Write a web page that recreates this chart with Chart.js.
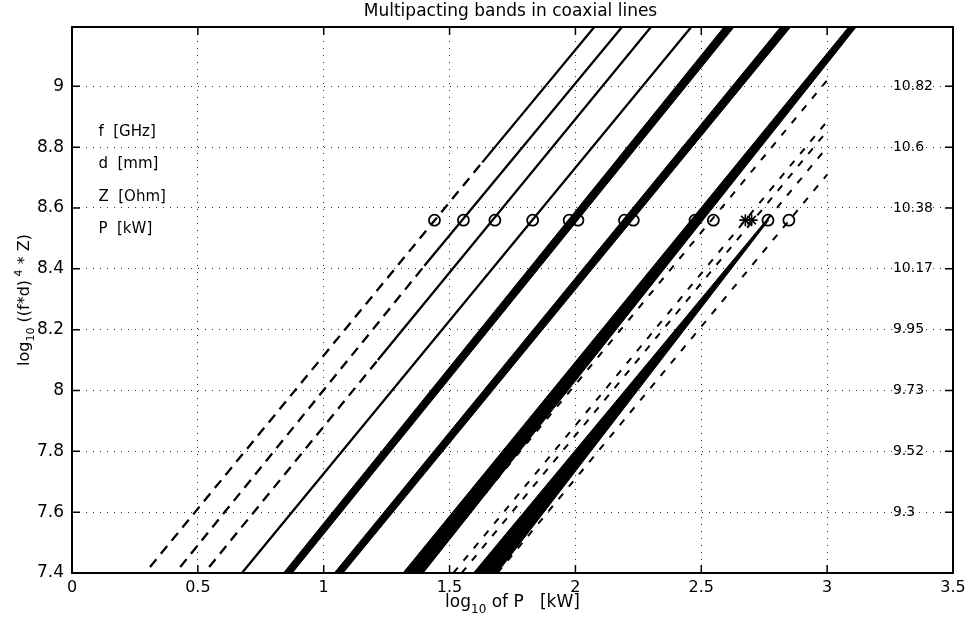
<!DOCTYPE html>
<html>
<head>
<meta charset="utf-8">
<title>Multipacting bands in coaxial lines</title>
<script src="https://cdn.jsdelivr.net/npm/chart.js@4.4.1/dist/chart.umd.min.js"></script>
<style>
    html, body { margin: 0; padding: 0; background: #fff; }
    #wrap { width: 969px; height: 619px; }
</style>
</head>
<body>
<div id="wrap"><canvas id="bandsChart" width="969" height="619"></canvas></div>
<script>
// Axis ticks and labels
const xTicks = [0, 0.5, 1, 1.5, 2, 2.5, 3, 3.5];
const yTicks = [7.4, 7.6, 7.8, 8, 8.2, 8.4, 8.6, 8.8, 9];
const rightTickValues = [7.6, 7.8, 8, 8.2, 8.4, 8.6, 8.8, 9];
const rightTickLabels = ['9.3', '9.52', '9.73', '9.95', '10.17', '10.38', '10.6', '10.82'];

// Unit notes written inside the plot (x, y in data units)
const noteTexts = ['f  [GHz]', 'd  [mm]', 'Z  [Ohm]', 'P  [kW]'];
const noteX = 0.105;
const noteY = [8.85, 8.745, 8.635, 8.53];

// Thin solid lines, [x, y] end points
const solidLines = [
    [[1.63, 8.75], [2.08, 9.2]],
    [[1.40, 8.41], [2.19, 9.2]],
    [[1.215, 8.10], [2.305, 9.2]],
    [[0.675, 7.4], [2.465, 9.2]]
];

// Long dashes on the left side
const dashedLeft = [
    [[0.31, 7.42], [1.63, 8.75]],
    [[0.43, 7.42], [1.40, 8.41]],
    [[0.545, 7.42], [1.215, 8.10]]
];

// Short dashes on the right side
const dashedRight = [
    [[1.40, 7.42], [3.0, 9.02]],
    [[1.515, 7.4], [3.0, 8.885]],
    [[1.548, 7.4], [3.0, 8.853]],
    [[2.76, 8.56], [3.0, 8.80]],
    [[1.69, 7.4], [3.0, 8.71]]
];

// Filled bands (outline of each band)
const bands = [
    [[0.84, 7.4], [2.595, 9.2], [2.635, 9.2], [0.875, 7.4], [0.84, 7.4]],
    [[1.042, 7.4], [2.82, 9.2], [2.86, 9.2], [1.077, 7.4], [1.042, 7.4]],
    [[1.315, 7.4], [3.09, 9.2], [3.12, 9.2], [1.395, 7.4], [1.315, 7.4]],
    [[1.595, 7.4], [2.758, 8.56], [2.768, 8.56], [1.689, 7.4], [1.595, 7.4]]
];

// Markers on the row at log10((f*d)^4*Z) = 8.56
const markerY = 8.56;
const circleX = [1.44, 1.555, 1.68, 1.83, 1.975, 2.01, 2.195, 2.23, 2.475, 2.548, 2.765, 2.848];
const starX = [2.675, 2.70];

const FONT = '"DejaVu Sans", "Liberation Sans", sans-serif';

const toPoints = arr => arr.map(p => ({ x: p[0], y: p[1] }));
const fmt = v => String(Number(v.toFixed(2)));

// Build the datasets (first ones are drawn on top)
const datasets = [];

datasets.push({
    data: circleX.map(x => ({ x: x, y: markerY })),
    showLine: false,
    pointStyle: 'circle',
    pointRadius: 5.5,
    pointBorderWidth: 1.8,
    pointBorderColor: '#000',
    pointBackgroundColor: 'rgba(0,0,0,0)'
});
datasets.push({
    data: starX.map(x => ({ x: x, y: markerY })),
    showLine: false,
    pointStyle: 'star',
    pointRadius: 6,
    pointBorderWidth: 1.6,
    pointBorderColor: '#000',
    pointBackgroundColor: 'rgba(0,0,0,0)'
});

solidLines.forEach(l => datasets.push({
    data: toPoints(l), showLine: true, pointRadius: 0,
    borderColor: '#000', borderWidth: 2.3, fill: false, clip: 0
}));
dashedLeft.forEach(l => datasets.push({
    data: toPoints(l), showLine: true, pointRadius: 0,
    borderColor: '#000', borderWidth: 2.3, borderDash: [10, 7], fill: false, clip: 0
}));
dashedRight.forEach(l => datasets.push({
    data: toPoints(l), showLine: true, pointRadius: 0,
    borderColor: '#000', borderWidth: 2, borderDash: [7, 9], fill: false, clip: 0
}));
bands.forEach(b => datasets.push({
    data: toPoints(b), showLine: true, pointRadius: 0,
    borderColor: '#000', borderWidth: 1, backgroundColor: '#000', fill: 'shape', clip: 0
}));

// Draw text with sub/superscripts, parts = [text, size, dy]
function drawRich(ctx, parts, x, y) {
    let total = 0;
    const widths = parts.map(p => {
        ctx.font = p[1] + 'px ' + FONT;
        const w = ctx.measureText(p[0]).width;
        total += w;
        return w;
    });
    let cx = x - total / 2;
    ctx.textAlign = 'left';
    ctx.textBaseline = 'alphabetic';
    parts.forEach((p, i) => {
        ctx.font = p[1] + 'px ' + FONT;
        ctx.fillText(p[0], cx, y + p[2]);
        cx += widths[i];
    });
}

// Scales: fixed sizes so the plot box lands where the original has it
const noPad = s => { s.paddingLeft = 0; s.paddingRight = 0; s.paddingTop = 0; s.paddingBottom = 0; };

// Frame, inward ticks, titles and notes
const decorations = {
    id: 'decorations',
    afterDraw(chart) {
        const { ctx, chartArea: a, scales } = chart;
        ctx.save();
        ctx.strokeStyle = '#000';
        ctx.fillStyle = '#000';

        ctx.lineWidth = 2;
        ctx.strokeRect(a.left, a.top, a.right - a.left, a.bottom - a.top);

        ctx.lineWidth = 1.5;
        ctx.beginPath();
        xTicks.forEach(v => {
            const px = scales.x.getPixelForValue(v);
            ctx.moveTo(px, a.bottom); ctx.lineTo(px, a.bottom - 8);
            ctx.moveTo(px, a.top); ctx.lineTo(px, a.top + 8);
        });
        yTicks.forEach(v => {
            const py = scales.y.getPixelForValue(v);
            ctx.moveTo(a.left, py); ctx.lineTo(a.left + 8, py);
        });
        rightTickValues.forEach(v => {
            const py = scales.y2.getPixelForValue(v);
            ctx.moveTo(a.right, py); ctx.lineTo(a.right - 8, py);
        });
        ctx.stroke();

        // title
        ctx.font = '17px ' + FONT;
        ctx.textAlign = 'center';
        ctx.textBaseline = 'middle';
        ctx.fillText('Multipacting bands in coaxial lines', (a.left + a.right) / 2 - 2, 12);

        // notes
        ctx.font = '15px ' + FONT;
        ctx.textAlign = 'left';
        noteTexts.forEach((t, i) => {
            ctx.fillText(t, scales.x.getPixelForValue(noteX), scales.y.getPixelForValue(noteY[i]));
        });

        // x axis title
        drawRich(ctx, [['log', 17, 0], ['10', 12, 6], [' of P   [kW]', 17, 0]], (a.left + a.right) / 2, 607);

        // y axis title
        ctx.save();
        ctx.translate(29, 300);
        ctx.rotate(-Math.PI / 2);
        drawRich(ctx, [['log', 16, 0], ['10', 11, 5], [' ((f*d)', 16, 0], [' 4', 11, -7], [' * Z)', 16, 0]], 0, 0);
        ctx.restore();

        ctx.restore();
    }
};

const ctx = document.getElementById('bandsChart').getContext('2d');

const bandsChart = new Chart(ctx, {
    type: 'scatter',
    data: { datasets: datasets },
    options: {
        responsive: false,
        devicePixelRatio: 1,
        animation: false,
        layout: { padding: { top: 27, left: 0, right: 0, bottom: 0 } },
        plugins: {
            legend: { display: false },
            tooltip: { enabled: false },
            title: { display: false }
        },
        scales: {
            x: {
                type: 'linear',
                position: 'bottom',
                min: 0,
                max: 3.5,
                afterBuildTicks: s => { s.ticks = xTicks.map(v => ({ value: v })); },
                afterFit: s => { s.height = 46; noPad(s); },
                grid: { color: '#333', lineWidth: 1, drawTicks: false },
                border: { display: false, dash: [1, 6] },
                ticks: {
                    padding: 5,
                    color: '#000',
                    autoSkip: false,
                    maxRotation: 0,
                    font: { family: FONT, size: 16 },
                    callback: v => fmt(v)
                }
            },
            y: {
                type: 'linear',
                position: 'left',
                min: 7.4,
                max: 9.195,
                afterBuildTicks: s => { s.ticks = yTicks.map(v => ({ value: v })); },
                afterFit: s => { s.width = 72; noPad(s); },
                grid: { color: '#333', lineWidth: 1, drawTicks: false },
                border: { display: false, dash: [1, 6] },
                ticks: {
                    padding: 8,
                    color: '#000',
                    autoSkip: false,
                    font: { family: FONT, size: 17 },
                    callback: v => fmt(v)
                }
            },
            y2: {
                type: 'linear',
                position: 'right',
                min: 7.4,
                max: 9.195,
                afterBuildTicks: s => { s.ticks = rightTickValues.map(v => ({ value: v })); },
                afterFit: s => { s.width = 16; noPad(s); },
                grid: { display: false, drawTicks: false },
                border: { display: false },
                ticks: {
                    mirror: true,
                    crossAlign: 'far',
                    padding: -20,
                    color: '#000',
                    autoSkip: false,
                    font: { family: FONT, size: 14 },
                    callback: (v, i) => rightTickLabels[i]
                }
            }
        }
    },
    plugins: [decorations]
});
</script>
</body>
</html>
